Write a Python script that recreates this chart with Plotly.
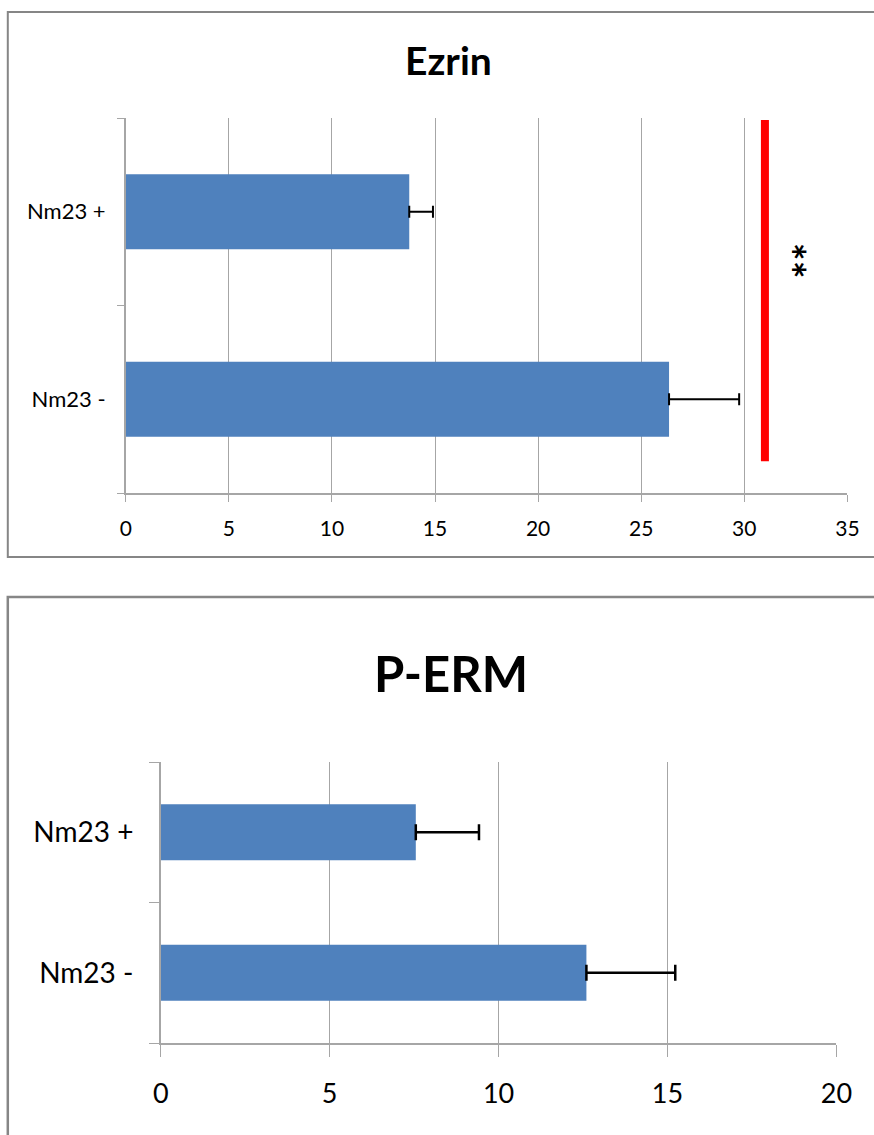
import plotly.graph_objects as go

# ---- data ----
categories = ["Nm23 -", "Nm23 +"]
ezrin_values = [26.35, 13.75]
ezrin_errors = [3.4, 1.15]
perm_values = [12.6, 7.55]
perm_errors = [2.63, 1.87]
ezrin_ticks = [0, 5, 10, 15, 20, 25, 30, 35]
perm_ticks = [0, 5, 10, 15, 20]
sig_x = 31.0          # position of red significance bar (Ezrin)
sig_label = "**"

W, H = 874, 1135
FONT = "Lato, Carlito, Open Sans, sans-serif"
BLUE = "#4F81BD"
GRID = "#A6A6A6"

# empirical horizontal correction of the rendered page
SX, OX = 0.973, 7.2

def px_x(x):
    return (x - OX) / SX / W

def px_y(y):
    return 1 - y / H

fig = go.Figure()

fig.add_trace(go.Bar(
    x=ezrin_values, y=categories, orientation="h",
    marker=dict(color=BLUE, line=dict(width=0)), width=0.4,
    error_x=dict(type="data", symmetric=False, array=ezrin_errors,
                 arrayminus=[0] * len(ezrin_errors),
                 color="black", thickness=2, width=6),
    xaxis="x", yaxis="y", showlegend=False, hoverinfo="skip",
))
fig.add_trace(go.Bar(
    x=perm_values, y=categories, orientation="h",
    marker=dict(color=BLUE, line=dict(width=0)), width=0.4,
    error_x=dict(type="data", symmetric=False, array=perm_errors,
                 arrayminus=[0] * len(perm_errors),
                 color="black", thickness=2.5, width=8),
    xaxis="x2", yaxis="y2", showlegend=False, hoverinfo="skip",
))

axis_common = dict(showline=True, linecolor=GRID, linewidth=1.5, zeroline=False)

fig.update_layout(
    width=W, height=H, autosize=False,
    margin=dict(l=0, r=0, t=0, b=0),
    paper_bgcolor="white", plot_bgcolor="white",
    font=dict(family=FONT, color="black"),
    xaxis=dict(
        domain=[px_x(125), px_x(847)], range=[0, 35],
        tickvals=ezrin_ticks, ticks="outside", ticklen=7, tickcolor=GRID,
        showgrid=True, gridcolor=GRID, gridwidth=1.2,
        tickfont=dict(size=21), ticklabelstandoff=9, anchor="y", **axis_common,
    ),
    yaxis=dict(
        domain=[px_y(493), px_y(118)], type="category",
        categoryorder="array", categoryarray=categories, range=[-0.5, 1.5],
        ticks="outside", ticklen=7, tickcolor=GRID, tickson="boundaries",
        showgrid=False, tickfont=dict(size=22), ticklabelstandoff=14,
        anchor="x", **axis_common,
    ),
    xaxis2=dict(
        domain=[px_x(160), px_x(836)], range=[0, 20],
        tickvals=perm_ticks, ticks="outside", ticklen=12, tickcolor=GRID,
        showgrid=True, gridcolor=GRID, gridwidth=1.2,
        tickfont=dict(size=27), ticklabelstandoff=14, anchor="y2", **axis_common,
    ),
    yaxis2=dict(
        domain=[px_y(1043), px_y(762)], type="category",
        categoryorder="array", categoryarray=categories, range=[-0.5, 1.5],
        ticks="outside", ticklen=10, tickcolor=GRID, tickson="boundaries",
        showgrid=False, tickfont=dict(size=28), ticklabelstandoff=20,
        anchor="x2", **axis_common,
    ),
)

# panel borders
fig.add_shape(type="rect", xref="paper", yref="paper",
              x0=px_x(7), x1=px_x(900), y0=px_y(557), y1=px_y(12),
              line=dict(color="#868686", width=2), fillcolor="rgba(0,0,0,0)", layer="below")
fig.add_shape(type="rect", xref="paper", yref="paper",
              x0=px_x(7), x1=px_x(900), y0=px_y(1150), y1=px_y(597),
              line=dict(color="#868686", width=2.5), fillcolor="rgba(0,0,0,0)", layer="below")

# titles
fig.add_annotation(text="<b>Ezrin</b>", xref="paper", yref="paper",
                   x=px_x(448), y=px_y(60), showarrow=False,
                   font=dict(size=39, family=FONT), xanchor="center", yanchor="middle")
fig.add_annotation(text="<b>P-ERM</b>", xref="paper", yref="paper",
                   x=px_x(450), y=px_y(673), showarrow=False,
                   font=dict(size=49, family=FONT), xanchor="center", yanchor="middle")

# significance marker
fig.add_shape(type="line", xref="x", yref="y",
              x0=sig_x, x1=sig_x, y0=-0.33, y1=1.49,
              line=dict(color="#FF0000", width=8))
fig.add_annotation(text="<b>" + sig_label + "</b>", xref="x", yref="y",
                   x=32.2, y=0.74, showarrow=False, textangle=90,
                   font=dict(size=42, family=FONT),
                   xanchor="center", yanchor="middle")

fig.write_html(
    "out.html",
    config={"responsive": False, "displayModeBar": False},
    post_script="document.body.style.margin='0';document.documentElement.style.overflow='hidden';",
)
